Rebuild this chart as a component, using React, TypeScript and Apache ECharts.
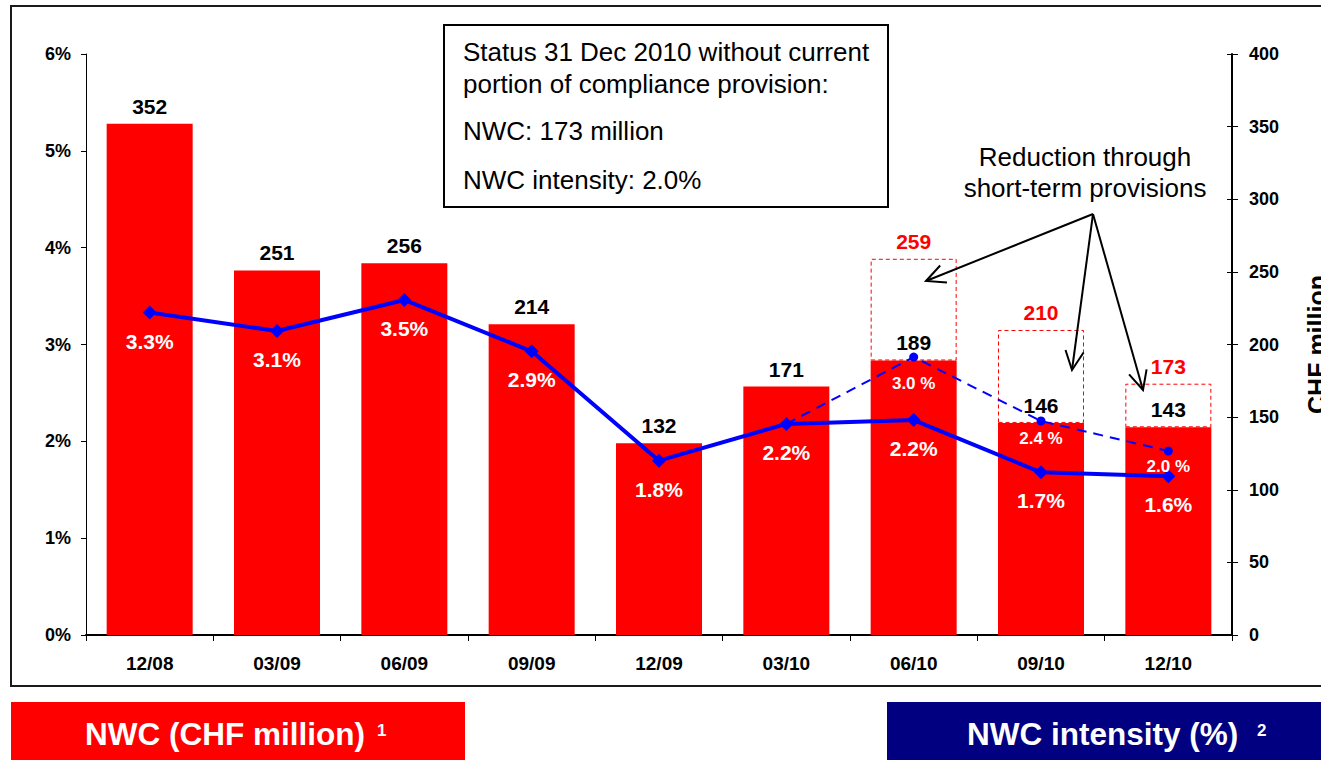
import React, { useEffect, useRef } from "react";
import * as echarts from "echarts";

const categories = ["12/08", "03/09", "06/09", "09/09", "12/09", "03/10", "06/10", "09/10", "12/10"];
const nwcValues = [352, 251, 256, 214, 132, 171, 189, 146, 143];
const nwcBeforeProvisions = [null, null, null, null, null, null, 259, 210, 173];
const intensity = [3.33, 3.14, 3.46, 2.93, 1.8, 2.18, 2.22, 1.68, 1.64];
const intensityBeforeProvisions = [null, null, null, null, null, 2.18, 2.87, 2.21, 1.9];
const intensityBeforeLabels = ["", "", "", "", "", "", "3.0 %", "2.4 %", "2.0 %"];
const boxLines = [
  "Status 31 Dec 2010 without current",
  "portion of compliance provision:",
  "NWC: 173 million",
  "NWC intensity: 2.0%",
];
const noteLines = ["Reduction through", "short-term provisions"];

const FONT = "'Liberation Sans', Arial, sans-serif";

function arrow(x1: number, y1: number, x2: number, y2: number) {
  const ang = Math.atan2(y2 - y1, x2 - x1);
  const L = 21;
  const a = Math.PI / 7;
  const pts = [
    [x2 - L * Math.cos(ang - a), y2 - L * Math.sin(ang - a)],
    [x2, y2],
    [x2 - L * Math.cos(ang + a), y2 - L * Math.sin(ang + a)],
  ];
  return [
    { type: "line", shape: { x1, y1, x2, y2 }, style: { stroke: "#000", lineWidth: 2 }, z: 10 },
    { type: "polyline", shape: { points: pts }, style: { stroke: "#000", lineWidth: 2, fill: "none" }, z: 10 },
  ];
}

export default function App() {
  const ref = useRef<HTMLDivElement>(null);
  useEffect(() => {
    document.body.style.margin = "0";
    const chart = echarts.init(ref.current!, null, { renderer: "svg" });
    const provDiff = nwcBeforeProvisions.map((v, i) => (v == null ? null : v - nwcValues[i]));
    const dashDistances = [0, 0, 0, 0, 0, 0, 13, 5, 2];
    const dashedData = intensityBeforeProvisions.map((v, i) =>
      v == null
        ? null
        : intensityBeforeLabels[i] === ""
        ? { value: v, symbol: "none", label: { show: false } }
        : { value: v, label: { distance: dashDistances[i] } }
    );
    const graphics: any[] = [
      { type: "rect", shape: { x: 11, y: 6, width: 1330, height: 680 }, style: { fill: "none", stroke: "#1a1a1a", lineWidth: 2 }, z: -1 },
      { type: "rect", shape: { x: 444, y: 25, width: 444, height: 182 }, style: { fill: "#fff", stroke: "#000", lineWidth: 2 }, z: 5 },
      ...boxLines.map((t, i) => ({
        type: "text",
        x: 463,
        y: [52, 84, 131, 180][i],
        style: { text: t, font: `26px ${FONT}`, fill: "#000", textVerticalAlign: "middle", textAlign: "left" },
        z: 6,
      })),
      ...noteLines.map((t, i) => ({
        type: "text",
        x: 1085,
        y: [157, 188][i],
        style: { text: t, font: `26px ${FONT}`, fill: "#000", textVerticalAlign: "middle", textAlign: "center" },
        z: 6,
      })),
      ...arrow(1093, 214, 926, 281),
      ...arrow(1093, 214, 1072, 370),
      ...arrow(1093, 214, 1143, 390),
      { type: "rect", shape: { x: 11, y: 702, width: 454, height: 58 }, style: { fill: "#FF0000" } },
      { type: "text", x: 85, y: 734, style: { text: "NWC (CHF million)", font: `bold 31.5px ${FONT}`, fill: "#fff", textVerticalAlign: "middle" } },
      { type: "text", x: 377, y: 722, style: { text: "1", font: `bold 17px ${FONT}`, fill: "#fff", textVerticalAlign: "top" } },
      { type: "rect", shape: { x: 887, y: 702, width: 434, height: 58 }, style: { fill: "#000080" } },
      { type: "text", x: 967, y: 734, style: { text: "NWC intensity (%)", font: `bold 31.5px ${FONT}`, fill: "#fff", textVerticalAlign: "middle" } },
      { type: "text", x: 1257, y: 722, style: { text: "2", font: `bold 17px ${FONT}`, fill: "#fff", textVerticalAlign: "top" } },
    ];
    chart.setOption({
      animation: false,
      textStyle: { fontFamily: FONT },
      grid: { left: 86, right: 89, top: 54, bottom: 125, containLabel: false, outerBoundsMode: "none" },
      xAxis: {
        type: "category",
        data: categories,
        axisLine: { lineStyle: { color: "#000", width: 2 } },
        axisTick: { show: true, length: 6, lineStyle: { color: "#000", width: 1 } },
        axisLabel: { color: "#000", fontWeight: "bold", fontSize: 19, margin: 19, fontFamily: FONT },
      },
      yAxis: [
        {
          type: "value",
          min: 0,
          max: 6,
          interval: 1,
          position: "left",
          axisLine: { show: true, lineStyle: { color: "#000", width: 1 } },
          axisTick: { show: true, length: 5, lineStyle: { color: "#000" } },
          axisLabel: { formatter: "{value}%", color: "#000", fontWeight: "bold", fontSize: 18, margin: 15, fontFamily: FONT },
          splitLine: { show: false },
        },
        {
          type: "value",
          min: 0,
          max: 400,
          interval: 50,
          position: "right",
          name: "CHF million",
          nameLocation: "middle",
          nameRotate: 90,
          nameGap: 72,
          nameTextStyle: { color: "#000", fontWeight: "bold", fontSize: 25, fontFamily: FONT },
          axisLine: { show: true, lineStyle: { color: "#000", width: 2 } },
          axisTick: { show: true, length: 6, lineStyle: { color: "#000" } },
          axisLabel: { color: "#000", fontWeight: "bold", fontSize: 18, margin: 17, fontFamily: FONT },
          splitLine: { show: false },
        },
        {
          type: "value",
          min: 0,
          max: 400,
          interval: 50,
          position: "right",
          axisLine: { show: false },
          axisTick: { show: true, inside: true, length: 5, lineStyle: { color: "#000" } },
          axisLabel: { show: false },
          splitLine: { show: false },
        },
      ],
      series: [
        {
          name: "NWC",
          type: "bar",
          yAxisIndex: 1,
          stack: "nwc",
          barWidth: 86,
          data: nwcValues,
          itemStyle: { color: "#FF0000" },
          label: { show: true, position: "top", distance: 7, color: "#000", fontWeight: "bold", fontSize: 21, fontFamily: FONT },
          z: 2,
        },
        {
          name: "Before provisions",
          type: "bar",
          yAxisIndex: 1,
          stack: "nwc",
          barWidth: 86,
          data: provDiff,
          itemStyle: { color: "rgba(0,0,0,0)", borderColor: "#FF0000", borderType: [4, 3], borderWidth: 1 },
          label: {
            show: true,
            position: "top",
            distance: 7,
            color: "#FF0000",
            fontWeight: "bold",
            fontSize: 21,
            fontFamily: FONT,
            formatter: (p: any) => String(nwcBeforeProvisions[p.dataIndex] ?? ""),
          },
          z: 2,
        },
        {
          name: "NWC intensity",
          type: "line",
          yAxisIndex: 0,
          data: intensity,
          lineStyle: { color: "#0000FF", width: 4 },
          itemStyle: { color: "#0000FF" },
          symbol: "diamond",
          symbolSize: 14,
          label: {
            show: true,
            position: "bottom",
            distance: 11,
            color: "#fff",
            fontWeight: "bold",
            fontSize: 21,
            fontFamily: FONT,
            formatter: (p: any) => `${Number(p.value).toFixed(1)}%`,
          },
          z: 4,
        },
        {
          name: "Intensity before provisions",
          type: "line",
          yAxisIndex: 0,
          data: dashedData,
          connectNulls: false,
          lineStyle: { color: "#0000FF", width: 2, type: [10, 7] },
          itemStyle: { color: "#0000FF" },
          symbol: "circle",
          symbolSize: 9,
          label: {
            show: true,
            position: "bottom",
            distance: 13,
            color: "#fff",
            fontWeight: "bold",
            fontSize: 17,
            fontFamily: FONT,
            formatter: (p: any) => intensityBeforeLabels[p.dataIndex],
          },
          z: 5,
        },
      ],
      graphic: graphics,
    });
    return () => chart.dispose();
  }, []);
  return <div ref={ref} style={{ position: "absolute", left: 0, top: 0, width: 1321, height: 760 }} />;
}
